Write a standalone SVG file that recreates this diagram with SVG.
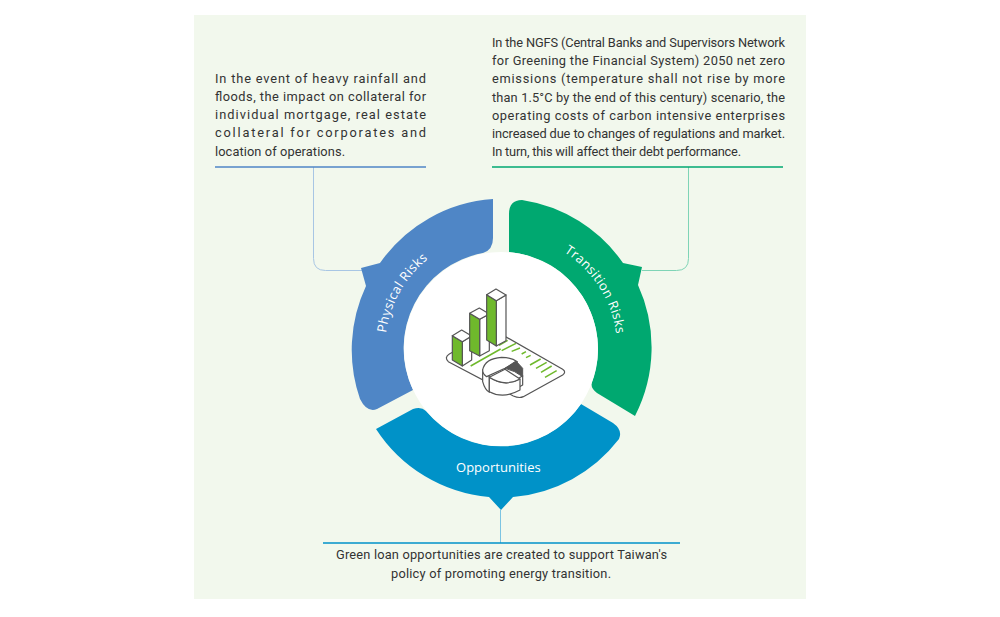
<svg xmlns="http://www.w3.org/2000/svg" width="1000" height="617" viewBox="0 0 1000 617">
<style>
.t{font-family:"Roboto","Liberation Sans",sans-serif;font-size:12.8px;fill:#333}
.w{font-family:"Open Sans","Liberation Sans",sans-serif;font-size:13px;fill:#fff;letter-spacing:.35px}
.c{fill:none;stroke-width:1}
.i{stroke:#555;stroke-width:3.6;stroke-linejoin:round;fill:#fff}
.l{stroke:#6fb92c;stroke-width:4.5;fill:none}
</style>
<defs>
<path id="pArc" d="M386 333A116 116 0 0 1 471 237"/>
<path id="tArc" d="M564 252A116 116 0 0 1 617 359"/>
</defs>
<rect width="1000" height="617" fill="#fff"/>
<rect x="194" y="15" width="612" height="584" fill="#f2f8ed"/>
<g id="connectors">
<path class="c" stroke="#a8c6e4" d="M313.5 167V258.5Q313.5 270.5 325.5 270.5H362"/>
<path class="c" stroke="#7fd4b6" d="M688.5 167V258.5Q688.5 270.5 676.5 270.5H642"/>
<path class="c" stroke="#7cc4e2" d="M500.5 510V543"/>
</g>
<g id="physical">
<path fill="#4f86c6" d="M493 199V238Q493 250 483 253A97 97 0 0 0 413 390L377 409Q367 413 360 399A150 150 0 0 1 366 286L361 268L380 263A150 150 0 0 1 493 199Z"/>
<text class="w"><textPath href="#pArc">Physical Risks</textPath></text>
</g>
<g id="transition">
<path fill="#00a870" d="M509 252V214Q509 200 522 200A150 150 0 0 1 623 263L642 267L638 285A150 150 0 0 1 635 416L597 393Q590 388 592 382A97 97 0 0 0 509 252Z"/>
<text class="w"><textPath href="#tArc">Transition Risks</textPath></text>
</g>
<g id="opportunities">
<path fill="#0092c8" d="M376 429L413 409Q421 406 426 411A97 97 0 0 0 581 404L613 423Q623 430 619 439A150 150 0 0 1 513 497L501 510L489 497A150 150 0 0 1 376 429Z"/>
<text class="w" x="456" y="472" textLength="85">Opportunities</text>
</g>
<g id="center">
<circle cx="501" cy="349" r="97" fill="#fff"/>
<g transform="translate(430 280) scale(.3333)">
<path fill="#fff" stroke="#555" stroke-width="3.6" stroke-linejoin="round" d="M58 222L190 149L398 268Q410 276 398 285L280 350Q268 356 250 348L55 245Q42 232 58 222Z"/>
<path class="l" d="M122 258L212 207M207 196L233 181M215 212L258 190M245 214L270 204M275 222L288 215M288 233L302 226M300 255L332 237M318 265L350 247M333 277L365 258M345 292L380 272"/>
<path class="i" d="M97 185L125 168V240L97 258Z"/><path class="i" style="fill:#6fb92c" d="M67 167L97 185V258L67 240Z"/><path class="i" d="M67 167L95 150L125 168L97 185Z"/>
<path class="i" d="M149 118L178 102V212L149 228Z"/><path class="i" style="fill:#6fb92c" d="M119 100L149 118V228L119 212Z"/><path class="i" d="M119 100L148 84L178 102L149 118Z"/>
<path class="i" d="M199 62L228 45V182L199 198Z"/><path class="i" style="fill:#6fb92c" d="M170 44L199 62V198L170 180Z"/><path class="i" d="M170 44L198 27L228 45L199 62Z"/>
<path class="i" d="M158 270V305Q165 330 178 337V290Z"/>
<path class="i" d="M158 270Q165 235 215 232Q245 232 262 245L225 265L170 290Q158 282 158 270Z"/>
<path d="M225 265L258 243L278 265V290Q255 272 225 265Z" fill="#555" stroke="#555" stroke-width="3" stroke-linejoin="round"/>
<path class="i" d="M278 287V315L266 322V295Z"/>
<path class="i" d="M178 292V335Q220 358 270 330V297Q225 322 178 292Z"/>
<path class="i" d="M178 292L225 268L270 297Q225 322 178 292Z"/>
</g>
</g>
<g id="physical-note">
<text class="t" x="215" y="83" textLength="211">In the event of heavy rainfall and</text>
<text class="t" x="215" y="101" textLength="211">floods, the impact on collateral for</text>
<text class="t" x="215" y="119" textLength="211">individual mortgage, real estate</text>
<text class="t" x="215" y="137" textLength="211">collateral for corporates and</text>
<text class="t" x="215" y="156" textLength="130">location of operations.</text>
<path d="M215 167H426" stroke="#4f86c6" stroke-width="1.6"/>
</g>
<g id="transition-note">
<text class="t" x="492" y="47" textLength="293">In the NGFS (Central Banks and Supervisors Network</text>
<text class="t" x="492" y="65" textLength="293">for Greening the Financial System) 2050 net zero</text>
<text class="t" x="492" y="83" textLength="293">emissions (temperature shall not rise by more</text>
<text class="t" x="492" y="102" textLength="293">than 1.5°C by the end of this century) scenario, the</text>
<text class="t" x="492" y="120" textLength="293">operating costs of carbon intensive enterprises</text>
<text class="t" x="492" y="138" textLength="293">increased due to changes of regulations and market.</text>
<text class="t" x="492" y="156" textLength="249">In turn, this will affect their debt performance.</text>
<path d="M492 167H783" stroke="#00a870" stroke-width="1.6"/>
</g>
<g id="opportunities-note">
<path d="M323 543H680" stroke="#0092c8" stroke-width="1.6"/>
<text class="t" x="336" y="559" textLength="331">Green loan opportunities are created to support Taiwan's</text>
<text class="t" x="391" y="578" textLength="220">policy of promoting energy transition.</text>
</g>
</svg>
